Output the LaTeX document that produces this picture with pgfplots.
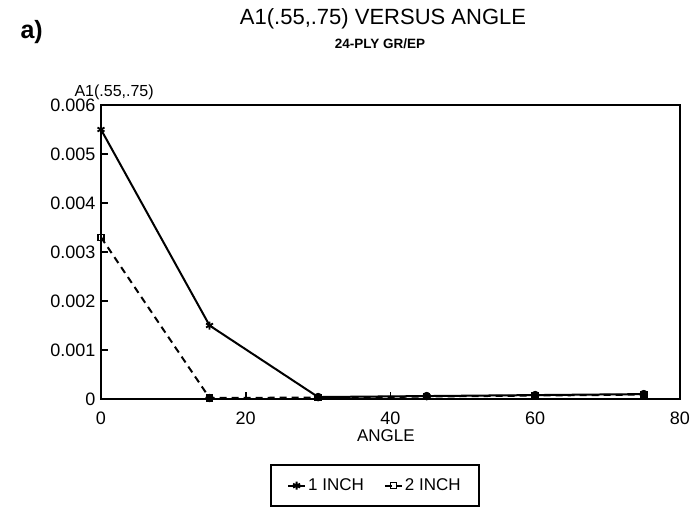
\documentclass[border=0pt]{standalone}
\usepackage{pgfplots}
\pgfplotsset{compat=1.18}
\usepackage{fontspec}
\setmainfont{Liberation Sans}

\begin{document}
\begin{tikzpicture}
\begin{axis}[
  at={(0,0)}, anchor=south west,
  scale only axis,
  width=579pt, height=294pt,
  xmin=0, xmax=80, ymin=0, ymax=0.006,
  xtick={0,20,40,60,80},
  ytick={0,0.001,0.002,0.003,0.004,0.005,0.006},
  yticklabels={0,0.001,0.002,0.003,0.004,0.005,0.006},
  scaled y ticks=false,
  tick pos=left, tick align=inside,
  major tick length=7pt,
  axis line style={line width=2.2pt},
  every tick/.style={line width=1.6pt, black},
  tick label style={font=\fontsize{18}{20}\selectfont},
  /pgf/number format/assume math mode=true,
  xticklabel style={anchor=center, yshift=-19pt},
  yticklabel style={xshift=-2pt},
  xlabel={ANGLE},
  xlabel style={font=\fontsize{17}{19}\selectfont,
    at={(axis description cs:0.492,-0.126)}, anchor=center},
  legend style={at={(0.473,-0.221)}, anchor=north, legend columns=-1,
    draw=black, line width=2pt, inner xsep=16pt, inner ysep=12pt,
    font=\fontsize{17}{19}\selectfont,
    /tikz/every even column/.append style={column sep=18pt}},
  legend cell align=left,
  clip=false,
]
\addplot[black, line width=2pt, mark=asterisk, mark size=4pt,
  mark options={solid, line width=1.8pt}]
  coordinates {(0,0.0055) (15,0.0015) (30,0.00004) (45,0.00006) (60,0.00008) (75,0.0001)};
\addlegendentry{1 INCH}
\addplot[black, line width=2pt, dash pattern=on 7pt off 5pt, mark=square, mark size=3pt,
  mark options={solid, line width=1.6pt}]
  coordinates {(0,0.0033) (15,0.00002) (30,0.00003) (45,0.00005) (60,0.00007) (75,0.00009)};
\addlegendentry{2 INCH}
\addplot[only marks, black, mark=*, mark size=4pt, forget plot]
  coordinates {(15,0.00002) (30,0.00004) (45,0.00006) (60,0.00008) (75,0.0001)};
\end{axis}
\node[font=\fontsize{25}{27}\bfseries\selectfont, anchor=west] at (-84pt,367pt) {a)};
\node[font=\fontsize{22}{24}\selectfont] at (282pt,380pt) {A1(.55,.75) VERSUS ANGLE};
\node[font=\fontsize{13.5}{15}\bfseries\selectfont] at (279pt,355pt) {24-PLY GR/EP};
\node[font=\fontsize{16}{18}\selectfont, anchor=west] at (-30pt,307pt) {A1(.55,.75)};
\pgfresetboundingbox
\path[use as bounding box] (-101pt,-112pt) rectangle (594pt,399pt);
\end{tikzpicture}
\end{document}
